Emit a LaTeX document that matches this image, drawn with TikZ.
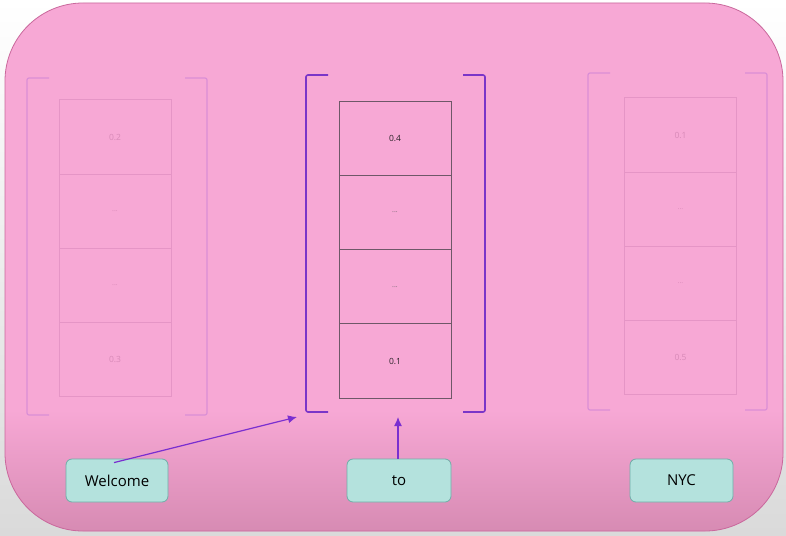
\documentclass[tikz,border=0pt]{standalone}
\usepackage{fontspec}
\setmainfont{Open Sans}
\usetikzlibrary{positioning, arrows.meta}
\definecolor{bggray}{HTML}{DADADA}
\definecolor{slidepink}{HTML}{F7A8D5}
\definecolor{slidedeep}{HTML}{D68AB2}
\definecolor{slideedge}{HTML}{C9689C}
\definecolor{cellline}{HTML}{6E5868}
\definecolor{celltext}{HTML}{2A2228}
\definecolor{dottext}{HTML}{7A6A74}
\definecolor{fadeline}{HTML}{E595C6}
\definecolor{fadetext}{HTML}{D88AB8}
\definecolor{bracketpurple}{HTML}{7A35C8}
\definecolor{fadebracket}{HTML}{DA8FD6}
\definecolor{arrowpurple}{HTML}{7A2FD0}
\definecolor{tokenfill}{HTML}{B4E2DD}
\definecolor{tokenline}{HTML}{6FAEA8}
\begin{document}
\begin{tikzpicture}[
    x=1pt, y=-1pt,
    cell/.style={draw=cellline, line width=0.8pt, minimum width=112pt, minimum height=74.25pt,
        inner sep=0pt, outer sep=0pt, text=celltext, font=\fontsize{8.5}{10}\selectfont},
    dotcell/.style={cell, text=dottext, font=\fontsize{7}{8}\selectfont},
    fadedcell/.style={cell, draw=fadeline, text=fadetext},
    fadeddotcell/.style={fadedcell, font=\fontsize{7}{8}\selectfont},
    token/.style={draw=tokenline, fill=tokenfill, line width=0.8pt, rounded corners=6pt,
        minimum height=43pt, inner sep=0pt, font=\fontsize{15}{18}\selectfont},
    bracket/.style={draw=bracketpurple, line width=1.6pt, rounded corners=2pt},
    fadedbracket/.style={bracket, draw=fadebracket, line width=1.2pt},
    arrow/.style={-{Latex[length=9pt, width=8pt]}, draw=arrowpurple, line width=1.2pt}
]
    % BACKGROUND
    \useasboundingbox (0,0) rectangle (786,535);
    \shade[top color=white, bottom color=bggray] (0,0) rectangle (786,535);
    \fill[slidepink, rounded corners=78pt] (5,3) rectangle (783,531);
    \begin{scope}
        \clip[rounded corners=78pt] (5,3) rectangle (783,531);
        \shade[top color=slidepink, bottom color=slidedeep] (0,410) rectangle (786,535);
    \end{scope}
    \draw[slideedge, line width=0.8pt, rounded corners=78pt] (5,3) rectangle (783,531);

    % VECTORS
    \node[fadedcell] (left_a) at (115,137) {0.2};
    \node[fadeddotcell, below=0pt of left_a] (left_b) {...};
    \node[fadeddotcell, below=0pt of left_b] (left_c) {...};
    \node[fadedcell, below=0pt of left_c] (left_d) {0.3};

    \node[cell] (mid_a) at (395,138.25) {0.4};
    \node[dotcell, below=0pt of mid_a] (mid_b) {...};
    \node[dotcell, below=0pt of mid_b] (mid_c) {...};
    \node[cell, below=0pt of mid_c] (mid_d) {0.1};

    \node[fadedcell] (right_a) at (680.5,135) {0.1};
    \node[fadeddotcell, below=0pt of right_a] (right_b) {...};
    \node[fadeddotcell, below=0pt of right_b] (right_c) {...};
    \node[fadedcell, below=0pt of right_c] (right_d) {0.5};

    % BRACKETS
    \draw[fadedbracket] (49,78) -- (27,78) -- (27,415) -- (49,415);
    \draw[fadedbracket] (185,78) -- (207,78) -- (207,415) -- (185,415);
    \draw[bracket] (328,75) -- (306,75) -- (306,412) -- (328,412);
    \draw[bracket] (463,75) -- (485,75) -- (485,412) -- (463,412);
    \draw[fadedbracket] (610,73) -- (588,73) -- (588,410) -- (610,410);
    \draw[fadedbracket] (745,73) -- (767,73) -- (767,410) -- (745,410);

    % TOKENS
    \node[token, minimum width=102pt] (welcome) at (117,480.5) {Welcome};
    \node[token, minimum width=104pt] (to_word) at (399,480.5) {to};
    \node[token, minimum width=103pt] (nyc) at (681.5,480.5) {NYC};

    % EDGES
    \coordinate (mid_corner) at (297,417);
    \coordinate (mid_below) at (398,417);
    \draw[arrow] ([xshift=-3pt, yshift=-4pt]welcome.north) -- (mid_corner);
    \draw[arrow] ([xshift=-1pt]to_word.north) -- (mid_below);
\end{tikzpicture}
\end{document}
